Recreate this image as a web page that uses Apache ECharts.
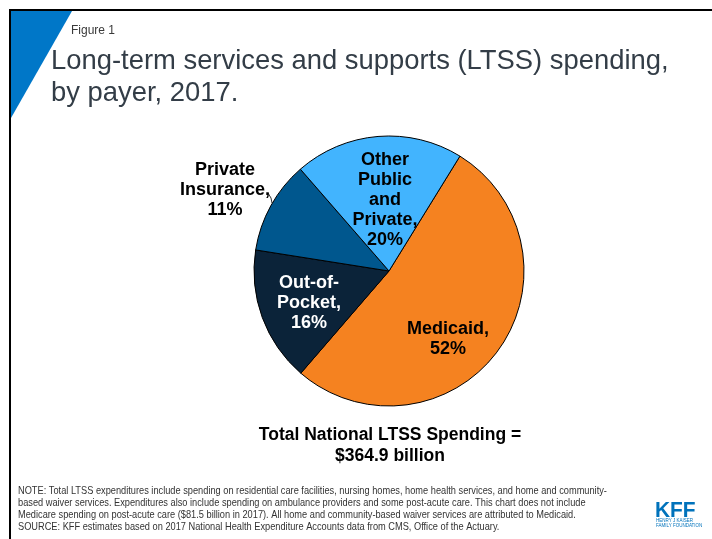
<!DOCTYPE html>
<html>
<head>
<meta charset="utf-8">
<script src="https://cdn.jsdelivr.net/npm/echarts@6/dist/echarts.min.js"></script>
<style>
  html, body { margin: 0; padding: 0; background: #fff; }
  #chart { width: 712px; height: 539px; }
</style>
</head>
<body>
<div id="chart"></div>
<script>
// LTSS spending shares by payer, 2017 (percent)
const payers = ['Medicaid', 'Out-of-Pocket', 'Private Insurance', 'Other Public and Private'];
const shares = [52, 16, 11, 20];
const sliceColors = ['#F58220', '#0B2339', '#00578E', '#42B4FE'];
const labelTextColors = ['#000', '#fff', '#000', '#000'];
// wrapped label text for each slice
const labelNames = ['Medicaid,', 'Out-of-\nPocket,', 'Private\nInsurance,', 'Other\nPublic\nand\nPrivate,'];
// label anchor points (px) for each slice's text block
const labelAnchors = [[448, 339], [309, 303], [225, 190], [385, 200]];

const titleLines = ['Long-term services and supports (LTSS) spending,', 'by payer, 2017.'];
const totalLines = ['Total National LTSS Spending =', '$364.9 billion'];
const noteLines = [
  'NOTE: Total LTSS expenditures include spending on residential care facilities, nursing homes, home health services, and home and community-',
  'based waiver services. Expenditures also include spending on ambulance providers and some post-acute care. This chart does not include',
  'Medicare spending on post-acute care ($81.5 billion in 2017). All home and community-based waiver services are attributed to Medicaid.',
  'SOURCE: KFF estimates based on 2017 National Health Expenditure Accounts data from CMS, Office of the Actuary.'
];

const chart = echarts.init(document.getElementById('chart'), null, { renderer: 'canvas' });

const pieData = payers.map((name, i) => ({
  name: name,
  value: shares[i],
  itemStyle: { color: sliceColors[i] },
  label: {
    color: labelTextColors[i],
    position: i === 2 ? 'outside' : 'inside'
  },
  labelLine: { show: i === 2, lineStyle: { color: '#000', width: 0.8 } }
}));

const option = {
  animation: false,
  backgroundColor: '#fff',
  graphic: [
    // frame lines
    { type: 'line', shape: { x1: 9, y1: 10, x2: 712, y2: 10 }, style: { stroke: '#000', lineWidth: 2 } },
    { type: 'line', shape: { x1: 10, y1: 9, x2: 10, y2: 539 }, style: { stroke: '#000', lineWidth: 2 } },
    // corner accent
    { type: 'polygon', shape: { points: [[11, 11], [72, 11], [11, 118]] }, style: { fill: '#0077C8' } },
    { type: 'text', x: 71, y: 25, style: { text: 'Figure 1', fontFamily: 'Liberation Sans, Arial, sans-serif', fontSize: 12, fill: '#3a3a3a' } },
    { type: 'text', x: 51, y: 45, style: { text: titleLines.join('\n'), fontFamily: 'Liberation Sans, Arial, sans-serif', fontSize: 27.4, lineHeight: 32, fill: '#333D47' } },
    { type: 'text', x: 390, y: 425, style: { text: totalLines.join('\n'), align: 'center', fontFamily: 'Liberation Sans, Arial, sans-serif', fontWeight: 'bold', fontSize: 17.5, lineHeight: 21, fill: '#000' } },
    // notes are set in a condensed face
    { type: 'text', x: 18, y: 485, scaleX: 0.88, originX: 0, originY: 0, style: { text: noteLines.join('\n'), fontFamily: 'Liberation Sans, Arial, sans-serif', fontSize: 10.5, lineHeight: 12, fill: '#333' } },
    // KFF mark
    { type: 'text', x: 655, y: 500, scaleX: 0.95, style: { text: 'KFF', fontFamily: 'Liberation Sans, Arial, sans-serif', fontWeight: 'bold', fontSize: 22, fill: '#0072BB' } },
    { type: 'text', x: 656, y: 518, style: { text: 'HENRY J KAISER\nFAMILY FOUNDATION', fontFamily: 'Liberation Sans, Arial, sans-serif', fontSize: 4.5, lineHeight: 5, fill: '#0072BB' } }
  ],
  series: [{
    type: 'pie',
    center: [389, 271],
    radius: 135,
    startAngle: 58.3,
    clockwise: true,
    silent: true,
    itemStyle: { borderColor: '#000', borderWidth: 1 },
    label: {
      show: true,
      fontFamily: 'Liberation Sans, Arial, sans-serif',
      fontWeight: 'bold',
      fontSize: 18,
      lineHeight: 20,
      align: 'center',
      formatter: p => labelNames[p.dataIndex] + '\n' + p.value + '%'
    },
    labelLayout: function (params) {
      const a = labelAnchors[params.dataIndex];
      const out = { x: a[0], y: a[1], align: 'center', verticalAlign: 'middle' };
      if (params.dataIndex === 2) {
        out.labelLinePoints = [[268, 193], [271, 198], [272, 203]];
      }
      return out;
    },
    data: pieData
  }]
};

chart.setOption(option);
</script>
</body>
</html>
